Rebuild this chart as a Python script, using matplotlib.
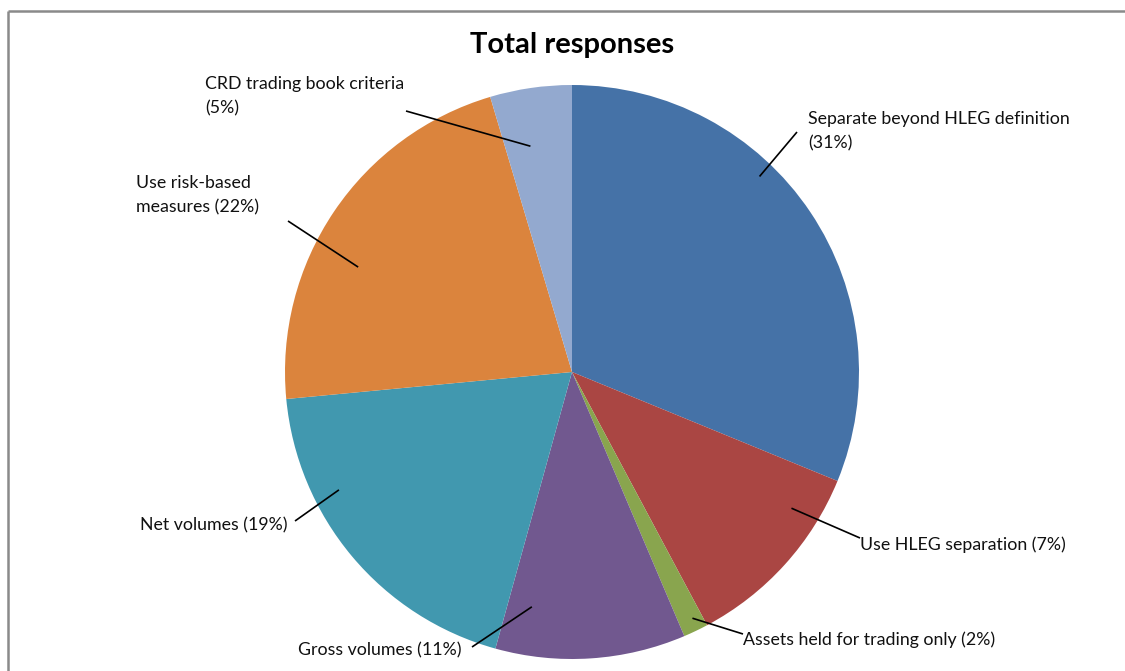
import matplotlib
matplotlib.use("Agg")
import matplotlib.pyplot as plt
import numpy as np

# ---- data ----
categories = [
    "Separate beyond HLEG definition",
    "Use HLEG separation",
    "Assets held for trading only",
    "Gross volumes",
    "Net volumes",
    "Use risk-based measures",
    "CRD trading book criteria",
]
label_texts = [
    "Separate beyond HLEG definition\n(31%)",
    "Use HLEG separation (7%)",
    "Assets held for trading only (2%)",
    "Gross volumes (11%)",
    "Net volumes (19%)",
    "Use risk-based\nmeasures (22%)",
    "CRD trading book criteria\n(5%)",
]
shares = [31.2, 11.0, 1.4, 10.7, 19.2, 21.9, 4.6]
colors = ["#4572A7", "#AA4643", "#89A54E", "#71588F", "#4198AF", "#DB843D", "#93A9CF"]
title = "Total responses"

# ---- layout (pixel units, y up) ----
W, H = 1125, 671
cx, cy, R = 572, H - 372, 287
# label anchor positions (x, y, ha)
label_pos = [
    (808, H - 131, "left"),
    (860, H - 545, "left"),
    (743, H - 640, "left"),
    (462, H - 650, "right"),
    (287, H - 525, "right"),
    (136, H - 195, "left"),
    (205, H - 96, "left"),
]
# where leader line meets label
line_end = [
    (797, H - 132),
    (860, H - 538),
    (743, H - 634),
    (472, H - 647),
    (295, H - 521),
    (288, H - 221),
    (406, H - 111),
]
# anchor inside wedge: fraction across wedge angle, fraction of radius
anchor_frac = [(0.61, 0.944), (0.76, 0.90), (0.6, 0.955), (0.15, 0.83),
               (0.31, 0.91), (0.6, 0.83), (0.63, 0.80)]

plt.rcParams["font.family"] = ["Lato", "DejaVu Sans"]

fig = plt.figure(figsize=(W / 100, H / 100), dpi=100)
ax = fig.add_axes([0, 0, 1, 1])

wedges, _ = ax.pie(shares, colors=colors, startangle=90, counterclock=False,
                   center=(cx, cy), radius=R, frame=True,
                   wedgeprops=dict(linewidth=0))
ax.set_xlim(0, W)
ax.set_ylim(0, H)
ax.set_aspect("equal")
ax.axis("off")

for w, txt, (lx, ly, ha), (ex, ey), (fa, fr) in zip(wedges, label_texts, label_pos, line_end, anchor_frac):
    ang = np.deg2rad(w.theta1 + fa * (w.theta2 - w.theta1))
    px = cx + fr * R * np.cos(ang)
    py = cy + fr * R * np.sin(ang)
    ax.plot([px, ex], [py, ey], color="black", lw=1.2, solid_capstyle="butt")
    ax.text(lx, ly, txt, ha=ha, va="center", fontsize=12.8, color="#111111",
            linespacing=1.6)

ax.text(572, H - 45, title, ha="center", va="center", fontsize=21,
        fontweight="bold", color="black")

# chart border (gray, top and left visible)
ax.plot([8, W], [H - 11, H - 11], color="#8a8a8a", lw=1.8, solid_capstyle="butt")
ax.plot([8, 8], [H - 11, 0], color="#8a8a8a", lw=1.8, solid_capstyle="butt")

fig.savefig("out.png", dpi=100, facecolor="white")
